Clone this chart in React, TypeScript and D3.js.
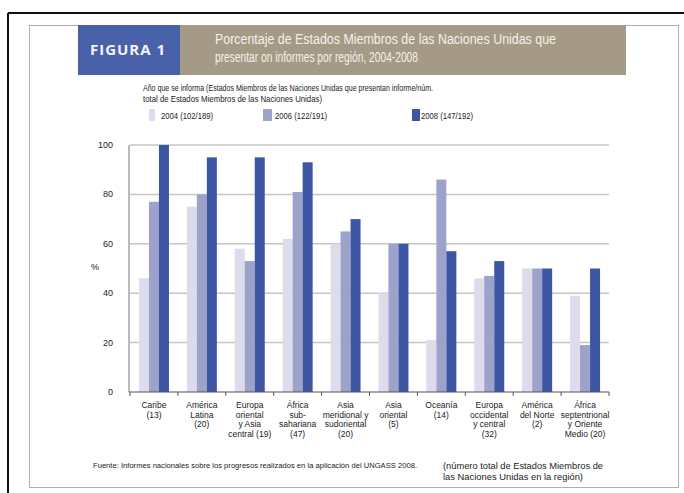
import React from "react";
import * as d3 from "d3";

const categories: string[][] = [
  ["Caribe", "(13)"],
  ["América", "Latina", "(20)"],
  ["Europa", "oriental", "y Asia", "central (19)"],
  ["África", "sub-", "sahariana", "(47)"],
  ["Asia", "meridional y", "sudoriental", "(20)"],
  ["Asia", "oriental", "(5)"],
  ["Oceanía", "(14)"],
  ["Europa", "occidental", "y central", "(32)"],
  ["América", "del Norte", "(2)"],
  ["África", "septentrional", "y Oriente", "Medio (20)"],
];
const series = ["2004", "2006", "2008"];
const seriesLabels = ["2004  (102/189)", "2006  (122/191)", "2008  (147/192)"];
const v2004 = [46, 75, 58, 62, 60, 40, 21, 46, 50, 39];
const v2006 = [77, 80, 53, 81, 65, 60, 86, 47, 50, 19];
const v2008 = [100, 95, 95, 93, 70, 60, 57, 53, 50, 50];
const yTicks = [0, 20, 40, 60, 80, 100];

const colors = ["#dcdcec", "#9da2cb", "#3d56a3"];
const FONT = "'Liberation Sans Narrow', 'Liberation Sans', Arial, sans-serif";

export default function App() {
  const values = [v2004, v2006, v2008];
  const idx = categories.map((_, i) => String(i));
  const x0 = d3.scaleBand<string>().domain(idx).range([130, 609]).padding(0);
  const x1 = d3.scaleBand<string>().domain(series).range([0, 30]);
  const inset = (x0.bandwidth() - 30) / 2;
  const y = d3.scaleLinear().domain([0, 100]).range([392, 145]);
  const boundaries = idx.map((k) => x0(k) as number).concat([609]);

  return (
    <svg
      width={684}
      height={493}
      style={{ position: "absolute", left: 0, top: 0, background: "#fff" }}
      fontFamily={FONT}
    >
      {/* outer frame */}
      <line x1={8} y1={13} x2={684} y2={13} stroke="#111" strokeWidth={2} />
      <line x1={8} y1={13} x2={8} y2={493} stroke="#111" strokeWidth={2} />
      {/* inner panel */}
      <rect x={29.5} y={25.5} width={649} height={462} fill="none" stroke="#b0b0b0" strokeWidth={1} />

      {/* title banner */}
      <rect x={78} y={25} width={102} height={50} fill="#4861a9" />
      <rect x={180} y={25} width={446} height={50} fill="#a59a86" />
      <text x={90} y={55} fill="#f4f4f8" fontSize={15} fontWeight="bold" textLength={75} lengthAdjust="spacing" fontFamily="'Open Sans', 'DejaVu Sans', sans-serif">
        FIGURA 1
      </text>
      <text x={215} y={44} fill="#f5f1ea" fontSize={14} textLength={341} lengthAdjust="spacingAndGlyphs">
        Porcentaje de Estados Miembros de las Naciones Unidas que
      </text>
      <text x={215} y={62} fill="#f5f1ea" fontSize={14} textLength={203} lengthAdjust="spacingAndGlyphs">
        presentar on informes por región, 2004-2008
      </text>

      {/* legend description */}
      <text x={143} y={91} fill="#222" fontSize={9.5} textLength={290} lengthAdjust="spacingAndGlyphs">
        Año que se informa (Estados Miembros de las Naciones Unidas que presentan informe/núm.
      </text>
      <text x={143} y={102} fill="#222" fontSize={9.5} textLength={179} lengthAdjust="spacingAndGlyphs">
        total de Estados Miembros de las Naciones Unidas)
      </text>
      {series.map((s, i) => {
        const sx = [149, 263, 412][i];
        const tx = [161, 275, 421][i];
        return (
          <g key={s}>
            <rect x={sx} y={109} width={[6, 9, 8][i]} height={12} fill={colors[i]} />
            <text x={tx} y={119} fill="#222" fontSize={9.5} textLength={52} lengthAdjust="spacingAndGlyphs">
              {seriesLabels[i]}
            </text>
          </g>
        );
      })}

      {/* gridlines */}
      {yTicks.slice(1).map((t) => (
        <line key={t} x1={130} x2={609} y1={y(t)} y2={y(t)} stroke="#c6c6c6" strokeWidth={1.5} />
      ))}
      {/* y tick labels */}
      {yTicks.map((t) => (
        <text key={t} x={113} y={y(t) + 3} textAnchor="end" fontSize={9} fill="#222">
          {t}
        </text>
      ))}
      <text x={95} y={270} textAnchor="middle" fontSize={9} fill="#222">%</text>

      {/* bars */}
      {categories.map((_, ci) => (
        <g key={ci} transform={`translate(${(x0(String(ci)) as number) + inset},0)`}>
          {series.map((s, si) => (
            <rect
              key={s}
              x={x1(s)}
              y={y(values[si][ci])}
              width={x1.bandwidth()}
              height={y(0) - y(values[si][ci])}
              fill={colors[si]}
            />
          ))}
        </g>
      ))}

      {/* axes */}
      <line x1={129} x2={129} y1={145} y2={392} stroke="#777" strokeWidth={1} />
      <line x1={129} x2={609} y1={392} y2={392} stroke="#555" strokeWidth={1.2} />
      {boundaries.map((b, i) => (
        <line key={i} x1={b} x2={b} y1={392} y2={396} stroke="#555" strokeWidth={1} />
      ))}

      {/* category labels */}
      {categories.map((lines, ci) => {
        const cx = (x0(String(ci)) as number) + x0.bandwidth() / 2;
        return (
          <text key={ci} x={cx} y={408} textAnchor="middle" fontSize={8.5} fill="#222">
            {lines.map((l, li) => (
              <tspan key={li} x={cx} dy={li === 0 ? 0 : 9.6}>
                {l}
              </tspan>
            ))}
          </text>
        );
      })}

      {/* footer */}
      <text x={93} y={468} fontSize={8} fill="#222" textLength={324} lengthAdjust="spacingAndGlyphs">
        Fuente: Informes nacionales sobre los progresos realizados en la aplicación del UNGASS 2008.
      </text>
      <text x={443} y={469} fontSize={9.5} fill="#222" textLength={160} lengthAdjust="spacingAndGlyphs">
        (número total de Estados Miembros de
      </text>
      <text x={443} y={480} fontSize={9.5} fill="#222" textLength={140} lengthAdjust="spacingAndGlyphs">
        las Naciones Unidas en la región)
      </text>
    </svg>
  );
}
